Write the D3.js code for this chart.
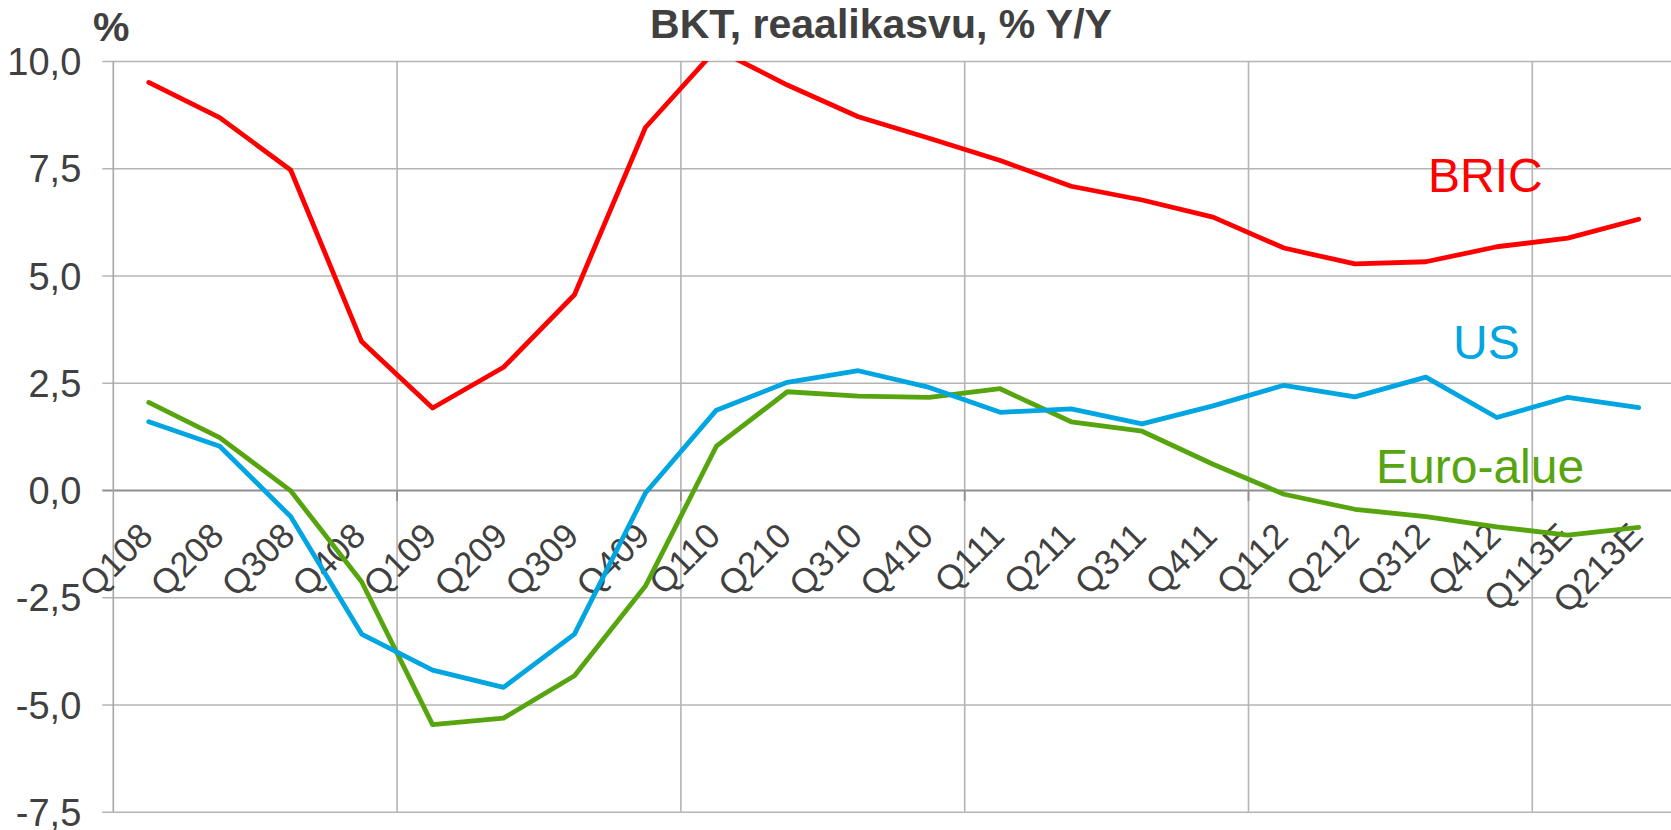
<!DOCTYPE html>
<html>
<head>
<meta charset="utf-8">
<script src="https://cdn.jsdelivr.net/npm/d3@7"></script>
<style>
  html, body { margin: 0; padding: 0; background: #fff; }
  svg { display: block; font-family: 'Liberation Sans', Arial, sans-serif; }
</style>
</head>
<body>
<div id="chart"></div>
<script>
const quarters = [
  'Q108', 'Q208', 'Q308', 'Q408', 'Q109', 'Q209', 'Q309', 'Q409',
  'Q110', 'Q210', 'Q310', 'Q410', 'Q111', 'Q211', 'Q311', 'Q411',
  'Q112', 'Q212', 'Q312', 'Q412', 'Q113E', 'Q213E'
];
const bric = [
  9.5, 8.68, 7.46, 3.46, 1.91, 2.86, 4.55, 8.45,
  10.28, 9.44, 8.7, 8.2, 7.68, 7.08, 6.76, 6.36,
  5.64, 5.27, 5.32, 5.67, 5.87, 6.31
];
const us = [
  1.59, 1.02, -0.62, -3.36, -4.2, -4.6, -3.36, -0.07,
  1.86, 2.51, 2.78, 2.39, 1.81, 1.89, 1.54, 1.96,
  2.44, 2.17, 2.63, 1.69, 2.16, 1.92
];
const euro = [
  2.04, 1.22, -0.02, -2.14, -5.47, -5.32, -4.33, -2.24,
  1.02, 2.29, 2.19, 2.16, 2.36, 1.59, 1.37, 0.6,
  -0.1, -0.45, -0.62, -0.86, -1.05, -0.87
];
const yTicks = [-7.5, -5, -2.5, 0, 2.5, 5, 7.5, 10];
const seriesNames = ['BRIC', 'US', 'Euro-alue'];
const seriesColors = ['#ff0000', '#00a5e1', '#56a50f'];

const render = () => {
  const width = 1671;
  const height = 830;
  const plot = { left: 113.3, right: 113.3 + 22 * 70.95, top: 61, bottom: 811.7 };

  const svg = d3
    .select('#chart')
    .append('svg')
    .attr('width', width)
    .attr('height', height);

  const x = d3.scaleBand().domain(quarters).range([plot.left, plot.right]);
  const y = d3.scaleLinear().domain([-7.5, 10]).range([plot.bottom, plot.top]);
  const fmt = (d) => d3.format('.1f')(d).replace('.', ',').replace('−', '-');

  // horizontal gridlines + y labels
  const yAxis = d3
    .axisLeft(y)
    .tickValues(yTicks)
    .tickSize(-(plot.right - plot.left))
    .tickSizeOuter(0)
    .tickPadding(32)
    .tickFormat(fmt);

  const yAxisGroup = svg
    .append('g')
    .attr('transform', `translate(${plot.left},0)`)
    .call(yAxis);
  yAxisGroup.select('.domain').remove();
  yAxisGroup
    .selectAll('.tick line')
    .attr('x1', -11)
    .attr('stroke', (d) => (d === 0 ? '#8f8f8f' : '#b4b4b4'))
    .attr('stroke-width', (d) => (d === 0 ? 2 : 1.6));
  yAxisGroup
    .selectAll('.tick text')
    .attr('fill', '#404040')
    .attr('dy', '0.36em')
    .style('font-size', '38px');

  // vertical gridlines every 4 quarters
  const vLines = quarters.filter((d, i) => i % 4 === 0);
  svg
    .append('g')
    .selectAll('line')
    .data(vLines)
    .enter()
    .append('line')
    .attr('x1', (d) => x(d))
    .attr('x2', (d) => x(d))
    .attr('y1', plot.top)
    .attr('y2', plot.bottom)
    .attr('stroke', (d, i) => (i === 0 ? '#a6a6a6' : '#b4b4b4'))
    .attr('stroke-width', 1.6);

  // small x tick marks on the zero line
  svg
    .append('g')
    .selectAll('line')
    .data(vLines.slice(1))
    .enter()
    .append('line')
    .attr('x1', (d) => x(d))
    .attr('x2', (d) => x(d))
    .attr('y1', y(0))
    .attr('y2', y(0) + 11)
    .attr('stroke', '#8f8f8f')
    .attr('stroke-width', 1.8);

  // x labels
  svg
    .append('g')
    .selectAll('text')
    .data(quarters)
    .enter()
    .append('text')
    .attr('transform', (d) => `translate(${x(d) + x.bandwidth() / 2 + 6},538) rotate(-45)`)
    .attr('text-anchor', 'end')
    .attr('fill', '#404040')
    .style('font-size', '35px')
    .text((d) => d);

  // lines
  svg
    .append('clipPath')
    .attr('id', 'plot-clip')
    .append('rect')
    .attr('x', 0)
    .attr('y', plot.top)
    .attr('width', width)
    .attr('height', plot.bottom - plot.top);

  const line = d3
    .line()
    .x((d, i) => x(quarters[i]) + x.bandwidth() / 2)
    .y((d) => y(d));

  svg
    .append('g')
    .attr('clip-path', 'url(#plot-clip)')
    .selectAll('path')
    .data([euro, us, bric])
    .enter()
    .append('path')
    .attr('d', line)
    .attr('fill', 'none')
    .attr('stroke', (d, i) => seriesColors[2 - i])
    .attr('stroke-width', 4.8)
    .attr('stroke-linejoin', 'round')
    .attr('stroke-linecap', 'round');

  // series labels
  const labelPos = [
    [1428, 191.7],
    [1453, 359.3],
    [1376, 483.3]
  ];
  svg
    .append('g')
    .selectAll('text')
    .data(seriesNames)
    .enter()
    .append('text')
    .attr('x', (d, i) => labelPos[i][0])
    .attr('y', (d, i) => labelPos[i][1])
    .attr('fill', (d, i) => seriesColors[i])
    .style('font-size', '48px')
    .text((d) => d);

  // title and unit
  svg
    .append('text')
    .attr('x', 881)
    .attr('y', 38)
    .attr('text-anchor', 'middle')
    .attr('fill', '#404040')
    .style('font-size', '41px')
    .style('font-weight', 'bold')
    .text('BKT, reaalikasvu, % Y/Y');

  svg
    .append('text')
    .attr('x', 93)
    .attr('y', 41)
    .attr('fill', '#404040')
    .style('font-size', '41px')
    .style('font-weight', 'bold')
    .text('%');
};

render();
</script>
</body>
</html>
